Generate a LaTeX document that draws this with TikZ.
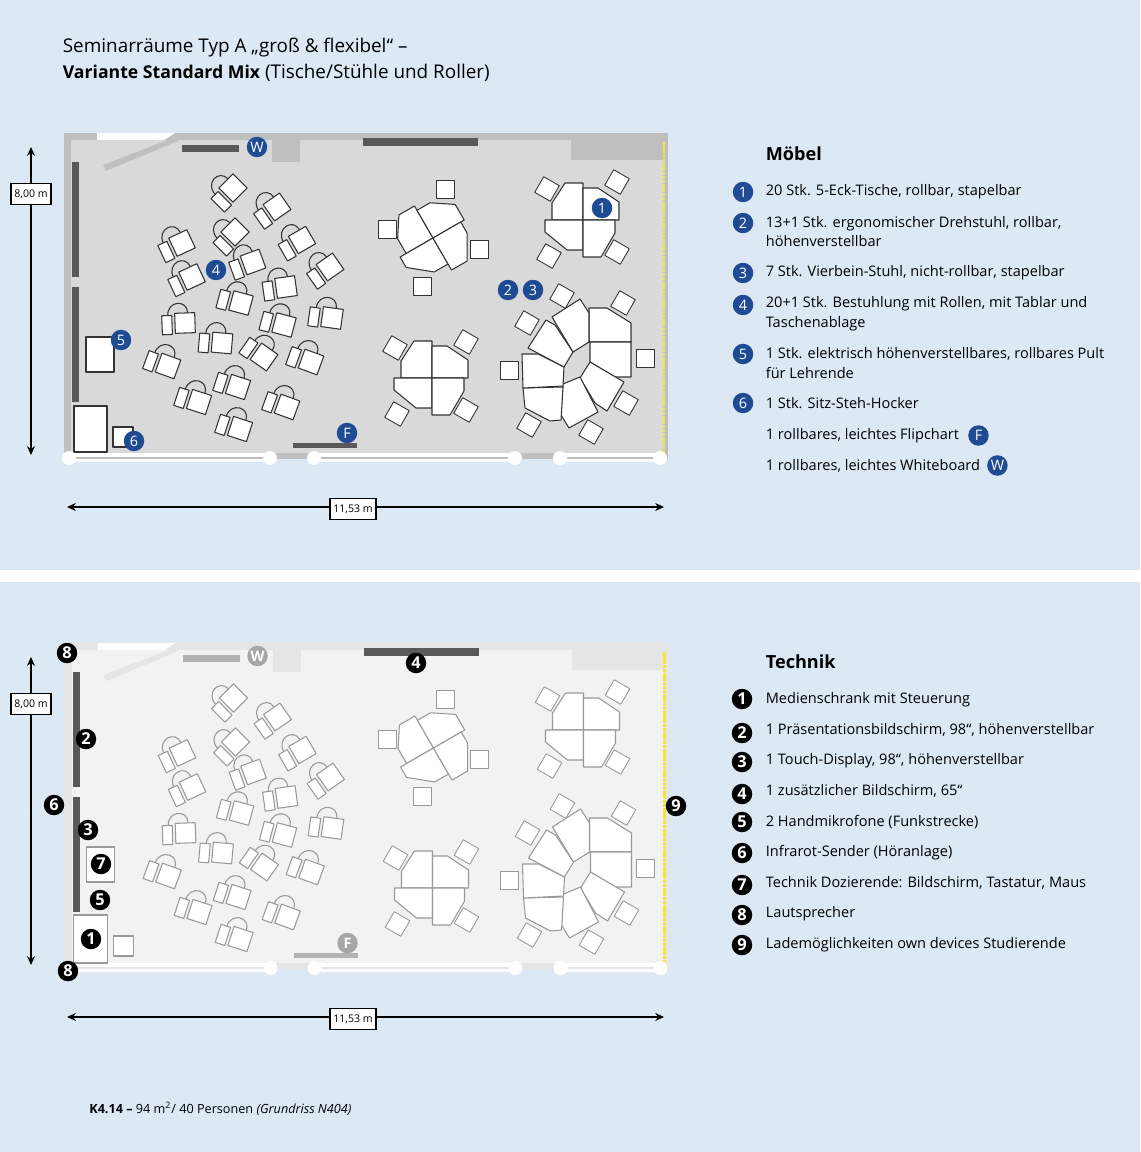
\documentclass[tikz,border=0pt]{standalone}
\usepackage{fontspec}
\setmainfont{Open Sans}
\usetikzlibrary{arrows.meta, positioning}
\definecolor{paper}{HTML}{DCE8F4}
\definecolor{badgeblue}{HTML}{1F4A94}
\definecolor{panelgrey}{HTML}{595959}
\definecolor{dotyellow}{HTML}{F5E63C}
\colorlet{floorcol}{black!15}
\colorlet{wallcol}{black!25}
\colorlet{furncol}{black!80}
\colorlet{dispcol}{panelgrey}
\tikzstyle{furn} = [draw=furncol, fill=white, line width=0.6pt, line join=round]
\tikzstyle{stool} = [furn, line width=0.5pt, minimum size=0.36cm, inner sep=0pt]
\tikzstyle{panel} = [fill=panelgrey]
\tikzstyle{badge} = [circle, fill=badgeblue, text=white, minimum size=0.41cm, inner sep=0pt, font=\fontsize{8.2}{8.2}\selectfont]
\tikzstyle{techbadge} = [badge, fill=black, font=\fontsize{9.3}{9.3}\selectfont\bfseries]
\tikzstyle{ghost} = [badge, fill=black!35, font=\fontsize{8.2}{8.2}\selectfont\bfseries]
\tikzstyle{legend} = [anchor=west, align=left, inner sep=0pt, font=\fontsize{8.28}{11.3}\selectfont]
\tikzstyle{heading} = [anchor=west, inner sep=0pt, font=\fontsize{10.3}{12}\selectfont\bfseries]
\tikzstyle{dimbox} = [draw=black, fill=white, line width=0.6pt, inner sep=0pt, minimum height=0.42cm, font=\fontsize{6}{6.5}\selectfont]
\tikzstyle{dimline} = [line width=0.7pt, -{Stealth[length=5pt,width=4.5pt]}]
\tikzset{
	seat/.pic={
		\draw[furn] (-23,-8) rectangle (-13,11);
		\draw[furn] (-10,-10) rectangle (10,10);
		\draw[draw=furncol, line width=0.6pt] (-17,-8) .. controls (-17,-23) and (3,-24) .. (3,-10);
	},
	cluster/.pic={
		\draw[furn] (0,0) -- (-31,0) -- (-31,-17) -- (-18,-37) -- (0,-37) -- cycle;
		\draw[furn] (0,0) -- (0,-32) -- (15,-32) -- (36,-18) -- (36,0) -- cycle;
		\draw[furn] (0,0) -- (-38,0) -- (-38,12) -- (-16,30) -- (0,30) -- cycle;
		\draw[furn] (0,0) -- (32,0) -- (32,13) -- (18,37) -- (0,37) -- cycle;
	}
}
\newcommand{\roomplan}{
	% Shell
	\fill[wallcol] (64,133) rectangle (668,459);
	\fill[floorcol] (71,140) rectangle (663,453);
	\fill[wallcol] (272,140) rectangle (300,162);
	\fill[wallcol] (571,140) rectangle (663,160);
	\fill[white] (97,133) -- (175,133) -- (164,140) -- (97,140) -- cycle;
	\fill[wallcol] (176,137) -- (103,165) -- (106,171) -- (178,141) -- cycle;
	\draw[dotyellow, line width=1.2pt, dash pattern=on 2pt off 0.4pt] (664,142) -- (664,453);
	% Windows
	\foreach \xa/\xb in {69/270, 314/515, 560/660} {
		\fill[white] (\xa,453) rectangle (\xb,462);
		\fill[wallcol] (\xa,456.5) rectangle (\xb,458.5);
	}
	\foreach \xa in {69, 270, 314, 515, 560, 660} {
		\fill[white] (\xa,458) circle (7);
	}
	% Panels
	\fill[panel] (72,162) rectangle (79,277);
	\fill[panel] (72,287) rectangle (79,402);
	\fill[panel] (363,138) rectangle (478,146);
	\fill[dispcol] (182,145) rectangle (239,152);
	\fill[dispcol] (293,443) rectangle (357,448);
	% Seats
	\foreach \x/\y/\r in {233/188/45, 277/207/35, 235/232/45, 302/240/30, 182/243/25, 192/277/25, 253/262/20,
		330/267/35, 286/287/8, 241/303/-15, 284/325/-15, 332/318/-8, 185/323/2, 222/343/-5, 264/357/-35,
		311/362/-20, 168/366/-20, 238/387/-18, 199/402/-18, 287/407/-20, 240/429/-18} {
		\pic[rotate=\r] at (\x,\y) {seat};
	}
	% Table groups
	\pic at (583,220) {cluster};
	\pic at (432,378) {cluster};
	\pic[rotate=30] at (433,238) {cluster};
	% Large group
	\draw[furn] (589,308) -- (607,308) -- (631,323) -- (631,342) -- (589,342) -- cycle;
	\draw[furn] (590,342) -- (631,342) -- (631,377) -- (615,377) -- (590,362) -- cycle;
	\draw[furn] (590,362) -- (624,382) -- (607,411) -- (595,403) -- (580,378) -- cycle;
	\draw[furn] (580,377) -- (598,412) -- (569,428) -- (561,415) -- (563,384) -- cycle;
	\draw[furn] (563,387) -- (561,420) -- (550,421) -- (525,408) -- (523,388) -- cycle;
	\draw[furn] (522,354) -- (538,354) -- (564,367) -- (563,386) -- (523,388) -- cycle;
	\draw[furn] (546,320) -- (555,325) -- (573,352) -- (564,367) -- (528,348) -- cycle;
	\draw[furn] (580,299) -- (589,313) -- (589,342) -- (573,352) -- (552,317) -- cycle;
	% Stools
	\foreach \x/\y in {547/189, 617/182, 549/256, 617/252, 395/348, 466/342, 397/414, 466/410,
		562/296, 623/303, 527/323, 626/403, 529/425, 591/432} {
		\node [stool, rotate=-30] at (\x,\y) {};
	}
	\foreach \x/\y in {445/189, 387/229, 479/249, 422/286, 645/358, 509/370} {
		\node [stool] at (\x,\y) {};
	}
}

\begin{document}
\begin{tikzpicture}[x=0.02cm, y=-0.02cm]
	\useasboundingbox (0,0) rectangle (1140,1152);
	\fill[paper] (0,0) rectangle (1140,1152);
	\fill[white] (0,570) rectangle (1140,582);

	% Title
	\node (title) [legend, font=\fontsize{10.75}{14.6}\selectfont] at (62.5,59.5) {Seminarräume Typ A „groß \& flexibel“ –\\{\fontsize{10.05}{14.6}\selectfont\bfseries Variante Standard Mix} (Tische/Stühle und Roller)};

	% Room top
	\roomplan
	\draw[furn] (86,337) rectangle (114,372);
	\draw[furn, line width=1.3pt] (74,406) rectangle (107,452);
	\draw[furn] (113,427) rectangle (133,447);
	\node (w) [badge] at (257,147) {W};
	\node (f) [badge] at (347,433) {F};
	\node (one) [badge] at (602,208) {1};
	\node (two) [badge] at (508,290) {2};
	\node (three) [badge] at (533,290) {3};
	\node (four) [badge] at (216,270) {4};
	\node (five) [badge] at (121,340) {5};
	\node (six) [badge] at (134,441) {6};

	% Dimensions top
	\coordinate (htop) at (31,147);
	\coordinate (hbot) at (31,455);
	\coordinate (wleft) at (67,507);
	\coordinate (wright) at (664,507);
	\node (height) [dimbox, minimum width=0.8cm] at (31,194) {8,00 m};
	\node (width) [dimbox, minimum width=0.92cm] at (353,509) {11,53 m};
	\draw [dimline] (height) -- (htop);
	\draw [dimline] (height) -- (hbot);
	\draw [dimline] (width.west |- wleft) -- (wleft);
	\draw [dimline] (width.east |- wright) -- (wright);

	% Legend furniture
	\node (moebel) [heading] at (765.5,154) {Möbel};
	\node (ma) [badge] at (743,192) {1};
	\node (mb) [badge] at (743,223) {2};
	\node (mc) [badge] at (743,273) {3};
	\node (md) [badge] at (743,305) {4};
	\node (me) [badge] at (743,354) {5};
	\node (mf) [badge] at (743,403) {6};
	\node (mta) [legend] at (765.5,191.5) {20 Stk. 5-Eck-Tische, rollbar, stapelbar};
	\node (mtb) [legend] at (765.5,231.5) {13+1 Stk. ergonomischer Drehstuhl, rollbar,\\höhenverstellbar};
	\node (mtc) [legend] at (765.5,272.5) {7 Stk. Vierbein-Stuhl, nicht-rollbar, stapelbar};
	\node (mtd) [legend] at (765.5,313.5) {20+1 Stk. Bestuhlung mit Rollen, mit Tablar und\\Taschenablage};
	\node (mte) [legend] at (765.5,363) {1 Stk. elektrisch höhenverstellbares, rollbares Pult\\für Lehrende};
	\node (mtf) [legend] at (765.5,403.5) {1 Stk. Sitz-Steh-Hocker};
	\node (mtg) [legend] at (765.5,435.5) {1 rollbares, leichtes Flipchart};
	\node (mth) [legend] at (765.5,465.5) {1 rollbares, leichtes Whiteboard};
	\node (mgf) [badge, right=0.17cm of mtg] {F};
	\node (mgw) [badge, right=0.13cm of mth] {W};

	% Room bottom
	\begin{scope}[shift={(0.5,510)}]
		\colorlet{floorcol}{black!5}
		\colorlet{wallcol}{black!10}
		\colorlet{furncol}{black!40}
		\colorlet{dispcol}{black!30}
		\roomplan
		\draw[furn] (86,337) rectangle (114,372);
		\draw[furn, line width=1pt] (73,405) rectangle (107,453);
		\draw[furn] (113,426) rectangle (133,446);
		\node (gw) [ghost] at (257,146) {W};
		\node (gf) [ghost] at (347,433) {F};
	\end{scope}
	\node (ta) [techbadge] at (91,939) {1};
	\node (tb) [techbadge] at (86,739) {2};
	\node (tc) [techbadge] at (88,830) {3};
	\node (td) [techbadge] at (416,663) {4};
	\node (te) [techbadge] at (100,900) {5};
	\node (tf) [techbadge] at (54,805) {6};
	\node (tg) [techbadge] at (101,864) {7};
	\node (th) [techbadge] at (67,653) {8};
	\node (ti) [techbadge] at (68,971) {8};
	\node (tj) [techbadge] at (676,806) {9};

	% Dimensions bottom
	\coordinate (htopb) at (31,657);
	\coordinate (hbotb) at (31,965);
	\coordinate (wleftb) at (67,1017);
	\coordinate (wrightb) at (664,1017);
	\node (heightb) [dimbox, minimum width=0.8cm] at (31,704) {8,00 m};
	\node (widthb) [dimbox, minimum width=0.92cm] at (353,1019) {11,53 m};
	\draw [dimline] (heightb) -- (htopb);
	\draw [dimline] (heightb) -- (hbotb);
	\draw [dimline] (widthb.west |- wleftb) -- (wleftb);
	\draw [dimline] (widthb.east |- wrightb) -- (wrightb);

	% Legend technology
	\node (technik) [heading] at (765.5,662) {Technik};
	\foreach \n/\y/\txt/\ty in {
		1/699/Medienschrank mit Steuerung/699.5,
		2/733/1 Präsentationsbildschirm{,} 98“{,} höhenverstellbar/729.5,
		3/762/1 Touch-Display{,} 98“{,}  höhenverstellbar/760.5,
		4/794/1 zusätzlicher Bildschirm{,} 65“/790.5,
		5/822/2 Handmikrofone (Funkstrecke)/822,
		6/853/Infrarot-Sender (Höranlage)/852.5,
		7/885/Technik Dozierende: Bildschirm{,} Tastatur{,} Maus/883,
		8/915/Lautsprecher/914,
		9/945/Lademöglichkeiten own devices Studierende/944.5} {
		\node (lb\n) [techbadge] at (742,\y) {\n};
		\node (lt\n) [legend] at (765.5,\ty) {\txt};
	}

	% Caption
	\node (caption) [anchor=west, inner sep=0pt, font=\fontsize{7.2}{8}\selectfont] at (89,1108.5) {\textbf{K4.14 –} 94 m\textsuperscript{2}/ 40 Personen \textit{(Grundriss  N404)}};
\end{tikzpicture}
\end{document}
